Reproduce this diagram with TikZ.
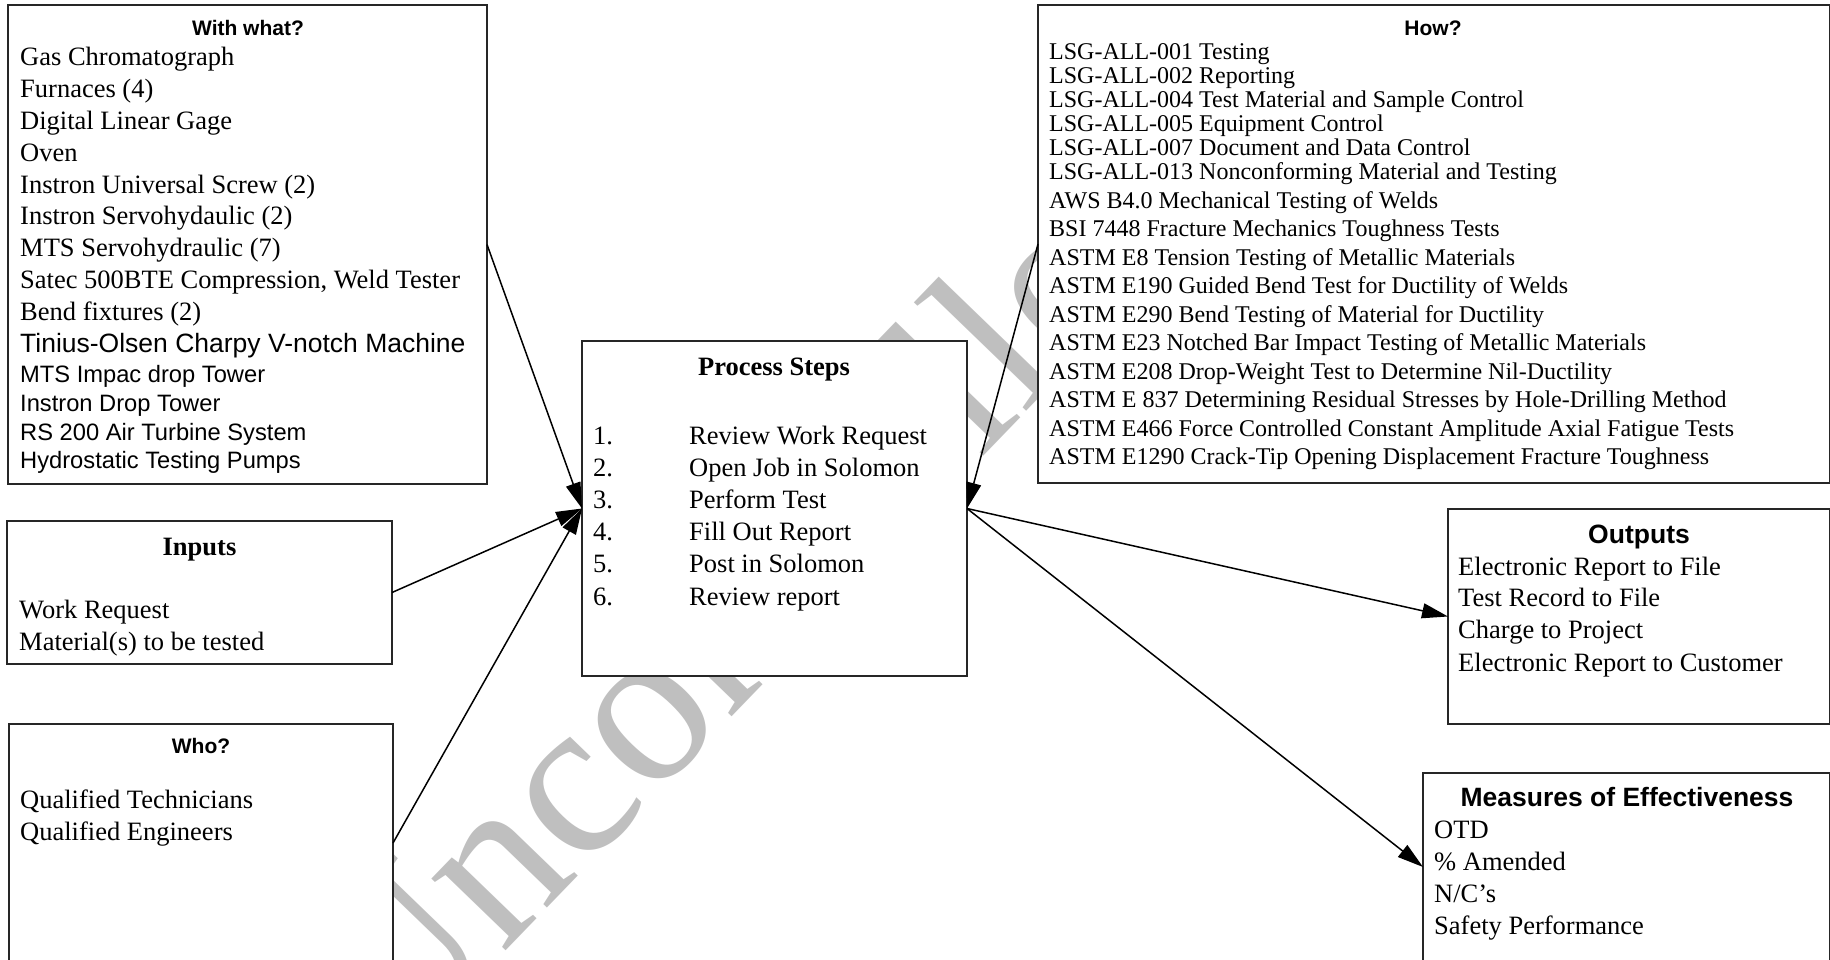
\documentclass[tikz,border=0pt]{standalone}
\usepackage{fontspec}
\setmainfont{Liberation Serif}
\setsansfont{Liberation Sans}
\usetikzlibrary{arrows.meta}

\tikzset{
  box/.style={draw=black!85, line width=1.2pt, fill=white, inner sep=0pt,
              outer sep=0pt, anchor=north west},
  item/.style={anchor=base west, inner sep=0pt, font=\fontsize{26.5}{30}\selectfont},
  smallitem/.style={anchor=base west, inner sep=0pt, font=\fontsize{24}{26}\selectfont},
  sansitem/.style={anchor=base west, inner sep=0pt, font=\sffamily\fontsize{23.7}{26}\selectfont},
  sanshead/.style={anchor=base, inner sep=0pt, font=\sffamily\bfseries\fontsize{21}{24}\selectfont},
  serifhead/.style={anchor=base, inner sep=0pt, font=\bfseries\fontsize{26.5}{30}\selectfont},
  bighead/.style={anchor=base, inner sep=0pt, font=\sffamily\bfseries\fontsize{26.5}{30}\selectfont},
  flow/.style={line width=1.5pt, -{Triangle[length=26pt,width=15pt]}},
  watermark/.style={anchor=base west, inner sep=0pt, rotate=46, text=black!25,
                    font=\fontsize{225}{225}\selectfont}
}

\begin{document}
\begin{tikzpicture}[x=1pt,y=-1pt]
\useasboundingbox (0,0) rectangle (1830,959);

% background stamp, hidden where the boxes lie over it
\node[watermark] (stamp) at (390,1071) {Uncontrolled};

% ---------- boxes ----------
\node[box, minimum width=479pt, minimum height=479pt] (ww)   at (8,5) {};
\node[box, minimum width=385pt, minimum height=143pt] (inp)  at (7,521) {};
\node[box, minimum width=384pt, minimum height=238pt] (who)  at (9,724) {};
\node[box, minimum width=385pt, minimum height=335pt] (proc) at (582,341) {};
\node[box, minimum width=792pt, minimum height=478pt] (how)  at (1038,5) {};
\node[box, minimum width=382pt, minimum height=215pt] (out)  at (1448,509) {};
\node[box, minimum width=407pt, minimum height=188pt] (moe)  at (1423,773) {};

% ---------- With what? ----------
\node[sanshead] (wwh) at (248,35) {With what?};
\node[item] (ww1)  at (20,65.7)  {Gas Chromatograph};
\node[item] (ww2)  at (20,97.5)  {Furnaces (4)};
\node[item] (ww3)  at (20,129.3) {Digital Linear Gage};
\node[item] (ww4)  at (20,161)   {Oven};
\node[item] (ww5)  at (20,193)   {Instron Universal Screw (2)};
\node[item] (ww6)  at (20,224.7) {Instron Servohydaulic (2)};
\node[item] (ww7)  at (20,256.5) {MTS Servohydraulic (7)};
\node[item] (ww8)  at (20,288.3) {Satec 500BTE Compression, Weld Tester};
\node[item] (ww9)  at (20,320.5) {Bend fixtures (2)};
\node[anchor=base west, inner sep=0pt, font=\sffamily\fontsize{26.5}{30}\selectfont]
      (ww10) at (20,352.7) {Tinius-Olsen Charpy V-notch Machine};
\node[sansitem] (ww11) at (20,382.7) {MTS Impac drop Tower};
\node[sansitem] (ww12) at (20,411)   {Instron Drop Tower};
\node[sansitem] (ww13) at (20,440)   {RS 200 Air Turbine System};
\node[sansitem] (ww14) at (20,468.5) {Hydrostatic Testing Pumps};

% ---------- Inputs ----------
\node[serifhead] (inph) at (199.5,555) {Inputs};
\node[item] (inp1) at (19,618)   {Work Request};
\node[item] (inp2) at (19,650.7) {Material(s) to be tested};

% ---------- Who? ----------
\node[sanshead] (whoh) at (201,753) {Who?};
\node[item] (who1) at (20,808.5) {Qualified Technicians};
\node[item] (who2) at (20,840.5) {Qualified Engineers};

% ---------- Process Steps ----------
\node[serifhead] (proch) at (774,375) {Process Steps};
\foreach \n/\s [count=\i] in {1./Review Work Request, 2./Open Job in Solomon,
    3./Perform Test, 4./Fill Out Report, 5./Post in Solomon, 6./Review report}{
  \node[item] (pn\i) at (593,{444+32.2*(\i-1)}) {\n};
  \node[item] (ps\i) at (689,{444+32.2*(\i-1)}) {\s};
}

% ---------- How? ----------
\node[sanshead] (howh) at (1433,35) {How?};
\node[smallitem] (how1)  at (1049,59.5)  {LSG-ALL-001 Testing};
\node[smallitem] (how2)  at (1049,83.5)  {LSG-ALL-002 Reporting};
\node[smallitem] (how3)  at (1049,107.5) {LSG-ALL-004 Test Material and Sample Control};
\node[smallitem] (how4)  at (1049,131.5) {LSG-ALL-005 Equipment Control};
\node[smallitem] (how5)  at (1049,155.5) {LSG-ALL-007 Document and Data Control};
\node[smallitem] (how6)  at (1049,179.5) {LSG-ALL-013 Nonconforming Material and Testing};
\node[smallitem] (how7)  at (1049,208)   {AWS B4.0 Mechanical Testing of Welds};
\node[smallitem] (how8)  at (1049,236.5) {BSI 7448 Fracture Mechanics Toughness Tests};
\node[smallitem] (how9)  at (1049,265)   {ASTM E8 Tension Testing of Metallic Materials};
\node[smallitem] (how10) at (1049,293.5) {ASTM E190 Guided Bend Test for Ductility of Welds};
\node[smallitem] (how11) at (1049,322)   {ASTM E290 Bend Testing of Material for Ductility};
\node[smallitem] (how12) at (1049,350.5) {ASTM E23 Notched Bar Impact Testing of Metallic Materials};
\node[smallitem] (how13) at (1049,379)   {ASTM E208 Drop-Weight Test to Determine Nil-Ductility};
\node[smallitem] (how14) at (1049,407.5) {ASTM E 837 Determining Residual Stresses by Hole-Drilling Method};
\node[smallitem] (how15) at (1049,436)   {ASTM E466 Force Controlled Constant Amplitude Axial Fatigue Tests};
\node[smallitem] (how16) at (1049,464.5) {ASTM E1290 Crack-Tip Opening Displacement Fracture Toughness};

% ---------- Outputs ----------
\node[bighead] (outh) at (1639,543) {Outputs};
\node[item] (out1) at (1458,575)   {Electronic Report to File};
\node[item] (out2) at (1458,606.7) {Test Record to File};
\node[item] (out3) at (1458,638.3) {Charge to Project};
\node[item] (out4) at (1458,671)   {Electronic Report to Customer};

% ---------- Measures of Effectiveness ----------
\node[bighead] (moeh) at (1627,806) {Measures of Effectiveness};
\node[item] (moe1) at (1434,838.3) {OTD};
\node[item] (moe2) at (1434,870)   {\% Amended};
\node[item] (moe3) at (1434,902)   {N/C’s};
\node[item] (moe4) at (1434,934)   {Safety Performance};

% ---------- connectors ----------
\draw[flow] (ww.east)  -- (proc.west);
\draw[flow] (inp.east) -- (proc.west);
\draw[flow] (who.east) -- (proc.west);
\draw[flow] (how.west) -- (proc.east);
\draw[flow] (proc.east) -- (out.west);
\draw[flow] (proc.east) -- (moe.west);
\end{tikzpicture}
\end{document}
